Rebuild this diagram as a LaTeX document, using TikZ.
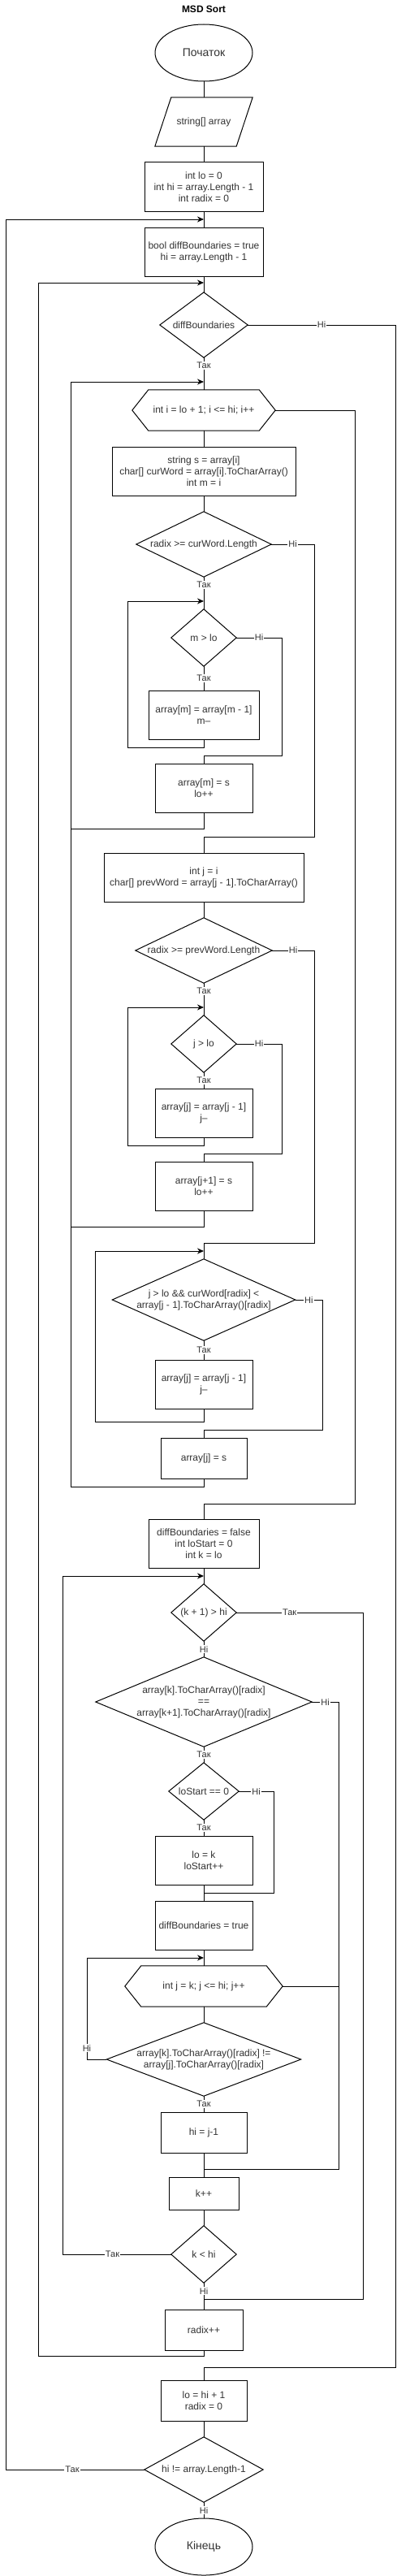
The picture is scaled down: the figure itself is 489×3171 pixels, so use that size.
\documentclass[tikz,border=0pt]{standalone}
\usepackage{fontspec}
\setmainfont{Liberation Sans}
\usetikzlibrary{shapes.geometric,arrows.meta}
\newcommand\FMain{\fontsize{12}{14}\selectfont}
\newcommand\FBig{\fontsize{14}{16}\selectfont}
\newcommand\FLbl{\fontsize{11}{13}\selectfont}
\definecolor{txt}{HTML}{333333}
\newcommand\DrawDia[1]{\draw[ln] (#1.north) -- (#1.east) -- (#1.south) -- (#1.west) -- cycle;}
\newcommand\DrawHex[1]{\draw[ln] (#1.west) -- ([xshift=20pt]#1.north west) -- ([xshift=-20pt]#1.north east) -- (#1.east) -- ([xshift=-20pt]#1.south east) -- ([xshift=20pt]#1.south west) -- cycle;}
\begin{document}
\begin{tikzpicture}[x=1pt,y=-1pt,
  ln/.style={draw=black,line width=1pt},
  arr/.style={draw=black,line width=1pt,-{Stealth[length=8pt,width=7pt]}},
  box/.style={draw=black,line width=1pt,rectangle,inner sep=0pt,align=center,font=\FMain,text=txt},
  frame/.style={rectangle,inner sep=0pt,align=center,font=\FMain,text=txt},
  oval/.style={draw=black,line width=1pt,ellipse,inner sep=0pt,minimum width=120pt,minimum height=70pt,font=\FBig,text=txt},
  lbl/.style={fill=white,inner sep=1pt,font=\FLbl,text=txt},
]
\useasboundingbox[fill=white] (0,0) rectangle (489,3171);

% ---------- nodes ----------
\node[font=\FMain\bfseries] (title) at (251,11) {MSD Sort};
\node[oval] (start) at (251,65) {Початок};
\node[frame,minimum width=120pt,minimum height=60pt] (inp) at (251,150) {string[] array};
\node[box,minimum width=146pt,minimum height=60pt] (b1) at (251,230) {int lo = 0\\int hi = array.Length - 1\\int radix = 0};
\coordinate (J1) at (251,270);
\node[box,minimum width=146pt,minimum height=60pt] (b2) at (251,310) {bool diffBoundaries = true\\hi = array.Length - 1};
\coordinate (J2) at (251,348);
\node[frame,minimum width=108pt,minimum height=80pt] (d1) at (251,400) {diffBoundaries};
\coordinate (J3) at (251,470);
\node[frame,minimum width=176pt,minimum height=50pt] (h1) at (251,505) {int i = lo + 1; i <= hi; i++};
\node[box,minimum width=226pt,minimum height=60pt] (b3) at (251,580) {string s = array[i]\\char[] curWord = array[i].ToCharArray()\\int m = i};
\node[frame,minimum width=166pt,minimum height=80pt] (d2) at (251,670) {radix >= curWord.Length};
\coordinate (J4) at (251,740);
\node[frame,minimum width=80pt,minimum height=70pt] (d3) at (251,785) {m > lo};
\node[box,minimum width=136pt,minimum height=60pt] (b4) at (251,880) {array[m] = array[m - 1]\\m--};
\node[box,minimum width=120pt,minimum height=60pt] (b5) at (251,970) {array[m] = s\\lo++};
\node[box,minimum width=246pt,minimum height=60pt] (b6) at (251,1080) {int j = i\\char[] prevWord = array[j - 1].ToCharArray()};
\node[frame,minimum width=168pt,minimum height=80pt] (d4) at (251,1170) {radix >= prevWord.Length};
\coordinate (J5) at (251,1240);
\node[frame,minimum width=80pt,minimum height=70pt] (d5) at (251,1285) {j > lo};
\node[box,minimum width=120pt,minimum height=60pt] (b7) at (251,1370) {array[j] = array[j - 1]\\j--};
\node[box,minimum width=120pt,minimum height=60pt] (b8) at (251,1460) {array[j+1] = s\\lo++};
\coordinate (J6) at (251,1540);
\node[frame,minimum width=225pt,minimum height=100pt] (d6) at (251,1600) {j > lo \&\& curWord[radix] <\\array[j - 1].ToCharArray()[radix]};
\node[box,minimum width=120pt,minimum height=60pt] (b9) at (251,1704) {array[j] = array[j - 1]\\j--};
\node[box,minimum width=106pt,minimum height=50pt] (b10) at (251,1795) {array[j] = s};
\node[box,minimum width=136pt,minimum height=60pt] (b11) at (251,1900) {diffBoundaries = false\\int loStart = 0\\int k = lo};
\coordinate (J7) at (251,1940);
\node[frame,minimum width=80pt,minimum height=70pt] (d7) at (251,1985) {(k + 1) > hi};
\node[frame,minimum width=266pt,minimum height=110pt] (d8) at (251,2095) {array[k].ToCharArray()[radix]\\==\\array[k+1].ToCharArray()[radix]};
\node[frame,minimum width=86pt,minimum height=70pt] (d9) at (251,2205) {loStart == 0};
\node[box,minimum width=120pt,minimum height=60pt] (b12) at (251,2290) {lo = k\\loStart++};
\node[box,minimum width=120pt,minimum height=60pt] (b13) at (251,2370) {diffBoundaries = true};
\coordinate (J8) at (251,2410);
\node[frame,minimum width=194pt,minimum height=50pt] (h2) at (251,2445) {int j = k; j <= hi; j++};
\node[frame,minimum width=239pt,minimum height=90pt] (d10) at (251,2535) {array[k].ToCharArray()[radix] !=\\array[j].ToCharArray()[radix]};
\node[box,minimum width=106pt,minimum height=50pt] (b14) at (251,2625) {hi = j-1};
\node[box,minimum width=86pt,minimum height=40pt] (b15) at (251,2700) {k++};
\node[frame,minimum width=80pt,minimum height=70pt] (d11) at (251,2775) {k < hi};
\node[box,minimum width=96pt,minimum height=50pt] (b16) at (251,2868) {radix++};
\node[box,minimum width=106pt,minimum height=50pt] (b17) at (251,2955) {lo = hi + 1\\radix = 0};
\node[frame,minimum width=146pt,minimum height=80pt] (d12) at (251,3040) {hi != array.Length-1};
\node[oval] (end) at (251,3135) {Кінець};

% ---------- outlines of special shapes ----------
\draw[ln] (inp.south west) -- ([xshift=20pt]inp.north west) -- (inp.north east) -- ([xshift=-20pt]inp.south east) -- cycle;
\DrawDia{d1}\DrawDia{d2}\DrawDia{d3}\DrawDia{d4}\DrawDia{d5}\DrawDia{d6}
\DrawDia{d7}\DrawDia{d8}\DrawDia{d9}\DrawDia{d10}\DrawDia{d11}\DrawDia{d12}
\DrawHex{h1}\DrawHex{h2}

% ---------- straight connectors ----------
\draw[ln] (start.south) -- (inp.north);
\draw[ln] (inp.south) -- (b1.north);
\draw[ln] (b1.south) -- (b2.north);
\draw[ln] (b2.south) -- (d1.north);
\draw[ln] (d1.south) -- (h1.north);
\draw[ln] (h1.south) -- (b3.north);
\draw[ln] (b3.south) -- (d2.north);
\draw[ln] (d2.south) -- (d3.north);
\draw[ln] (d3.south) -- (b4.north);
\draw[ln] (b6.south) -- (d4.north);
\draw[ln] (d4.south) -- (d5.north);
\draw[ln] (d5.south) -- (b7.north);
\draw[ln] (d6.south) -- (b9.north);
\draw[ln] (b11.south) -- (d7.north);
\draw[ln] (d7.south) -- (d8.north);
\draw[ln] (d8.south) -- (d9.north);
\draw[ln] (d9.south) -- (b12.north);
\draw[ln] (b12.south) -- (b13.north);
\draw[ln] (b13.south) -- (h2.north);
\draw[ln] (h2.south) -- (d10.north);
\draw[ln] (d10.south) -- (b14.north);
\draw[ln] (b14.south) -- (b15.north);
\draw[ln] (b15.south) -- (d11.north);
\draw[ln] (d11.south) -- (b16.north);
\draw[ln] (b17.south) -- (d12.north);
\draw[ln] (d12.south) -- (end.north);

% ---------- loop returns (arrows) ----------
\draw[arr] (b4.south) |- (157,920) |- (J4);
\draw[ln] (b5.south) |- (87,1020);
\draw[arr] (b7.south) |- (157,1410) |- (J5);
\draw[ln] (b8.south) |- (87,1510);
\draw[arr] (b9.south) |- (117,1750) |- (J6);
\draw[arr] (b10.south) |- (87,1830) |- (J3);
\draw[arr] (d10.west) -- (107,2535) |- (J8);
\draw[arr] (d11.west) -- node[lbl,pos=0.54]{Так} (77,2775) |- (J7);
\draw[arr] (b16.south) |- (47,2900) |- (J2);
\draw[arr] (d12.west) -- node[lbl,pos=0.52]{Так} (7,3040) |- (J1);

% ---------- forward exits ----------
\draw[ln] (d1.east) -- node[lbl]{Ні} (487,400) |- (251,2914) -- (b17.north);
\draw[ln] (h1.east) -- (437,505) |- (251,1851) -- (b11.north);
\draw[ln] (d2.east) -- node[lbl]{Ні} (387,670) |- (251,1030) -- (b6.north);
\draw[ln] (d3.east) -- node[lbl]{Ні} (347,785) |- (251,930) -- (b5.north);
\draw[ln] (d4.east) -- node[lbl]{Ні} (387,1170) |- (251,1530) -- (d6.north);
\draw[ln] (d5.east) -- node[lbl]{Ні} (347,1285) |- (251,1420) -- (b8.north);
\draw[ln] (d6.east) -- node[lbl]{Ні} (397,1600) |- (251,1760) -- (b10.north);
\draw[ln] (d7.east) -- node[lbl,pos=0.42]{Так} (447,1985) |- (251,2830) -- (b16.north);
\draw[ln] (d8.east) -- node[lbl]{Ні} (417,2095) |- (251,2670) -- (b15.north);
\draw[ln] (h2.east) -- (417,2445);
\draw[ln] (d9.east) -- node[lbl]{Ні} (337,2205) |- (251,2330);

% ---------- labels under diamonds ----------
\node[lbl] (t1) at (251,450) {Так};
\node[lbl] (t2) at (251,720) {Так};
\node[lbl] (t3) at (251,835) {Так};
\node[lbl] (t4) at (251,1220) {Так};
\node[lbl] (t5) at (251,1330) {Так};
\node[lbl] (t6) at (251,1662) {Так};
\node[lbl] (n7) at (251,2030) {Ні};
\node[lbl] (t8) at (251,2160) {Так};
\node[lbl] (t9) at (251,2250) {Так};
\node[lbl] (t10) at (251,2590) {Так};
\node[lbl] (n10) at (107,2521) {Ні};
\node[lbl] (n11) at (251,2820) {Ні};
\node[lbl] (n12) at (251,3090) {Ні};
\end{tikzpicture}
\end{document}
